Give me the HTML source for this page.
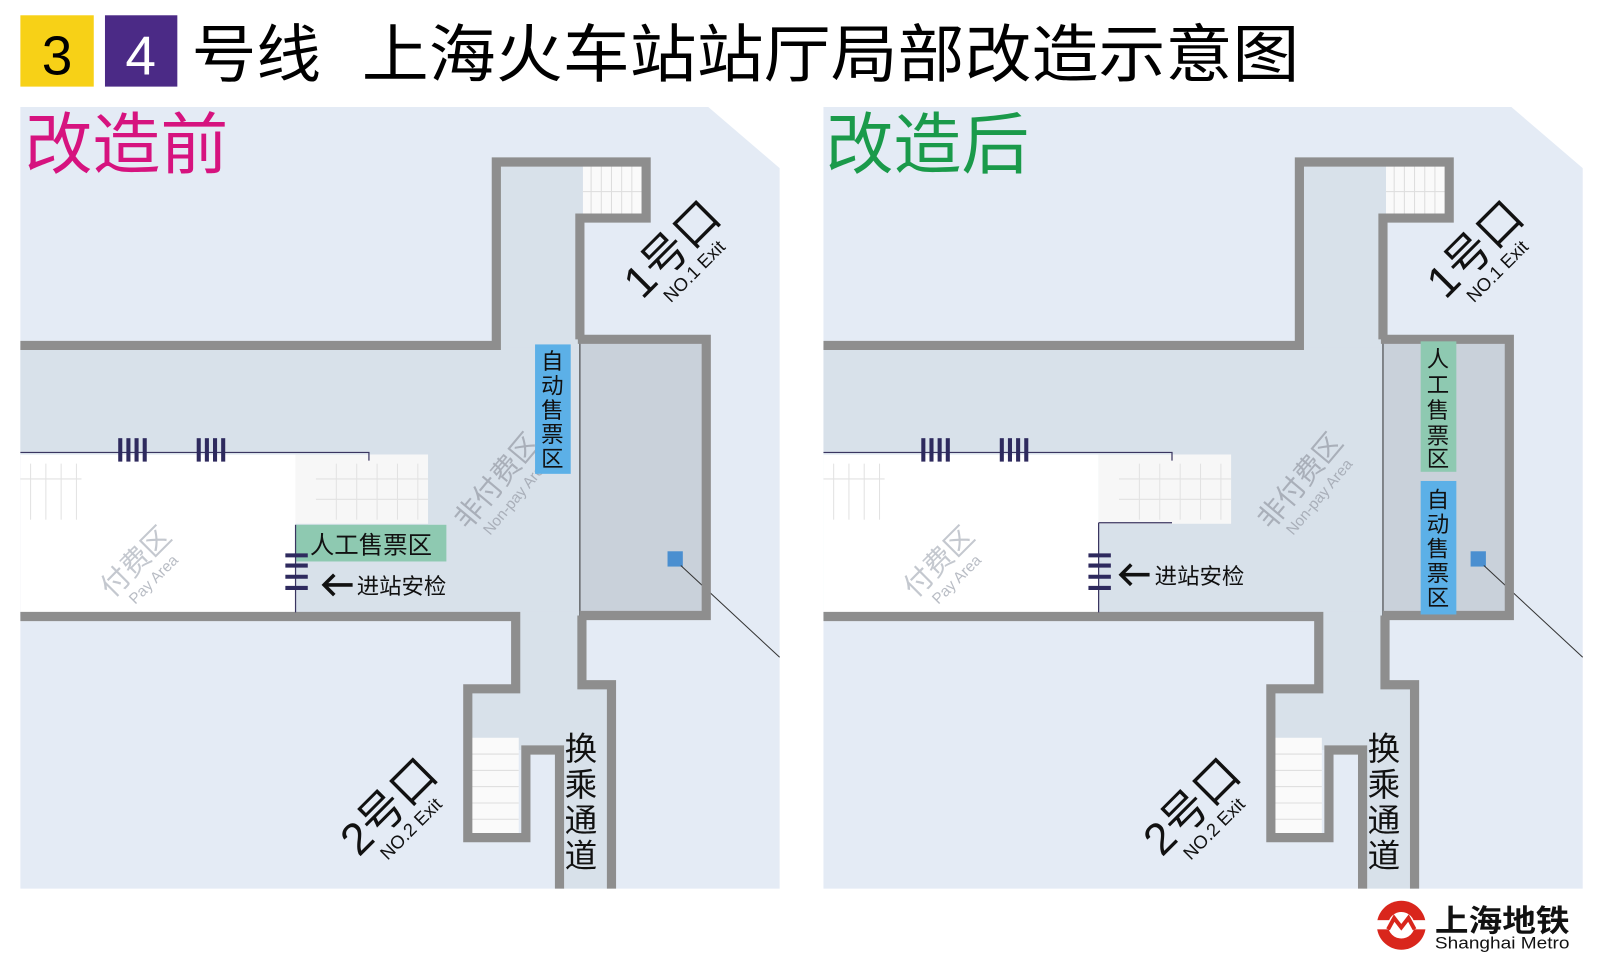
<!DOCTYPE html>
<html><head><meta charset="utf-8"><style>
html,body{margin:0;padding:0;background:#fff;}
svg{display:block;}
text{font-family:"Liberation Sans","Noto Sans CJK SC",sans-serif;}
</style></head><body>
<svg width="1598" height="965" viewBox="0 0 1568 947" preserveAspectRatio="none" xmlns="http://www.w3.org/2000/svg">
<rect width="1568" height="947" fill="#fff"/>
<!-- title -->
<rect x="20" y="15" width="72" height="70" fill="#f7d117"/>
<text x="56" y="73" font-size="54" text-anchor="middle" fill="#000">3</text>
<rect x="103" y="15" width="71" height="70" fill="#4b2a86"/>
<text x="138" y="73" font-size="54" text-anchor="middle" fill="#fff">4</text>
<text x="188" y="75" font-size="62" fill="#000" textLength="127" lengthAdjust="spacingAndGlyphs">号线</text>
<text x="355" y="75" font-size="62" fill="#000" textLength="920" lengthAdjust="spacingAndGlyphs">上海火车站站厅局部改造示意图</text>

<defs>
<g id="panel">
  <polygon points="0,105 675,105 745,165 745,872 0,872" fill="#e4ebf5"/>
  <rect x="0" y="339" width="549" height="266" fill="#d8e1ea"/>
  <rect x="467" y="159" width="82" height="182" fill="#d8e1ea"/>
  <rect x="467" y="159" width="147" height="55" fill="#d8e1ea"/>
  <rect x="486" y="600" width="65" height="80" fill="#d8e1ea"/>
  <rect x="439" y="676" width="141" height="60" fill="#d8e1ea"/>
  <rect x="529" y="730" width="51" height="142" fill="#d8e1ea"/>
  <rect x="552" y="163" width="58" height="49" fill="#fafafa"/>
  <g stroke="#ddd" stroke-width="1">
    <line x1="552" y1="188" x2="610" y2="188"/>
    <line x1="560" y1="163" x2="560" y2="212"/><line x1="570" y1="163" x2="570" y2="212"/><line x1="580" y1="163" x2="580" y2="212"/><line x1="590" y1="163" x2="590" y2="212"/><line x1="600" y1="163" x2="600" y2="212"/>
  </g>
  <rect x="443" y="724" width="46" height="94" fill="#fafafa"/>
  <g stroke="#ddd" stroke-width="1">
    <line x1="443" y1="740" x2="489" y2="740"/><line x1="443" y1="756" x2="489" y2="756"/><line x1="443" y1="772" x2="489" y2="772"/><line x1="443" y1="788" x2="489" y2="788"/><line x1="443" y1="804" x2="489" y2="804"/>
  </g>
  <rect x="0" y="446" width="270" height="155" fill="#fff"/>
  <rect x="270" y="446" width="130" height="68" fill="#f7f7f7"/>
  <g stroke="#e2e2e2" stroke-width="1">
    <line x1="0" y1="470" x2="60" y2="470"/><line x1="290" y1="470" x2="400" y2="470"/><line x1="290" y1="490" x2="400" y2="490"/>
    <line x1="10" y1="455" x2="10" y2="510"/><line x1="25" y1="455" x2="25" y2="510"/><line x1="40" y1="455" x2="40" y2="510"/><line x1="55" y1="455" x2="55" y2="510"/>
    <line x1="310" y1="455" x2="310" y2="510"/><line x1="330" y1="455" x2="330" y2="510"/><line x1="350" y1="455" x2="350" y2="510"/><line x1="370" y1="455" x2="370" y2="510"/><line x1="390" y1="455" x2="390" y2="510"/>
  </g>
  <polyline points="0,444 342,444 342,452" fill="none" stroke="#3a3560" stroke-width="1.2"/>
  <g stroke="#2e2a5e" stroke-width="4">
    <line x1="98" y1="430" x2="98" y2="453"/><line x1="106" y1="430" x2="106" y2="453"/><line x1="114" y1="430" x2="114" y2="453"/><line x1="122" y1="430" x2="122" y2="453"/>
    <line x1="175" y1="430" x2="175" y2="453"/><line x1="183" y1="430" x2="183" y2="453"/><line x1="191" y1="430" x2="191" y2="453"/><line x1="199" y1="430" x2="199" y2="453"/>
  </g>
  <rect x="549" y="333" width="122" height="271" fill="#c9d1da" stroke="#333" stroke-width="1"/>
  <rect x="635" y="541" width="15" height="15" fill="#4a8fd0"/>
  <line x1="648" y1="555" x2="745" y2="645" stroke="#333" stroke-width="1"/>
  <g fill="none" stroke="#8e8e8e" stroke-width="9">
    <polyline points="0,339 467,339 467,159 614,159 614,214 549,214 549,333"/>
    <polyline points="547,333 673,333 673,604 549,604"/>
    <polyline points="0,605 486,605 486,676 439,676 439,822 496,822 496,736 529,736 529,872"/>
    <polyline points="551,604 551,672 580,672 580,872"/>
  </g>
  <g transform="translate(120,558) rotate(-45)" text-anchor="middle">
    <text x="0" y="0" font-size="28" fill="#c4c8cf">付费区</text>
    <text x="0" y="20" font-size="15" fill="#b8bcc4">Pay Area</text>
  </g>
  <g transform="translate(475,478) rotate(-50)" text-anchor="middle">
    <text x="0" y="0" font-size="28" fill="#a9afb9">非付费区</text>
    <text x="0" y="20" font-size="15" fill="#a9afb9">Non-pay Area</text>
  </g>
  <g transform="translate(650,255) rotate(-45)" text-anchor="middle">
    <text x="0" y="0" font-size="44" fill="#111">1号口</text>
    <text x="0" y="22" font-size="18" fill="#111">NO.1 Exit</text>
  </g>
  <g transform="translate(372,802) rotate(-45)" text-anchor="middle">
    <text x="0" y="0" font-size="44" fill="#111">2号口</text>
    <text x="0" y="22" font-size="18" fill="#111">NO.2 Exit</text>
  </g>
  <g font-size="32" fill="#111" text-anchor="middle">
    <text x="550" y="746">换</text><text x="550" y="781">乘</text><text x="550" y="816">通</text><text x="550" y="851">道</text>
  </g>
</g>
</defs>

<use href="#panel" transform="translate(20,0)"/>
<text x="24" y="165" font-size="66" fill="#d6137f" textLength="200" lengthAdjust="spacingAndGlyphs">改造前</text>
<rect x="290" y="515" width="148" height="36" fill="#8ec9b1"/>
<text x="364" y="543" font-size="24" text-anchor="middle" fill="#111">人工售票区</text>
<line x1="290" y1="515" x2="290" y2="601" stroke="#3a3560" stroke-width="1.2"/>
<g stroke="#2e2a5e" stroke-width="4">
  <line x1="280" y1="545" x2="302" y2="545"/><line x1="280" y1="555" x2="302" y2="555"/><line x1="280" y1="566" x2="302" y2="566"/><line x1="280" y1="577" x2="302" y2="577"/>
</g>
<g stroke="#111" stroke-width="3.5" fill="none"><line x1="318" y1="574" x2="346" y2="574"/><polyline points="328,564 318,574 328,584"/></g>
<text x="350" y="583" font-size="22" fill="#111">进站安检</text>
<rect x="525" y="338" width="35" height="127" fill="#5cb0e7"/>
<g font-size="22" fill="#111" text-anchor="middle">
  <text x="542" y="362">自</text><text x="542" y="386">动</text><text x="542" y="410">售</text><text x="542" y="434">票</text><text x="542" y="458">区</text>
</g>

<use href="#panel" transform="translate(808,0)"/>
<text x="810" y="165" font-size="66" fill="#1a9a4a" textLength="200" lengthAdjust="spacingAndGlyphs">改造后</text>
<line x1="1078" y1="513" x2="1078" y2="601" stroke="#3a3560" stroke-width="1.2"/>
<line x1="1078" y1="513" x2="1150" y2="513" stroke="#3a3560" stroke-width="1.2"/>
<g stroke="#2e2a5e" stroke-width="4">
  <line x1="1068" y1="545" x2="1090" y2="545"/><line x1="1068" y1="555" x2="1090" y2="555"/><line x1="1068" y1="566" x2="1090" y2="566"/><line x1="1068" y1="577" x2="1090" y2="577"/>
</g>
<g stroke="#111" stroke-width="3.5" fill="none"><line x1="1100" y1="564" x2="1128" y2="564"/><polyline points="1110,554 1100,564 1110,574"/></g>
<text x="1133" y="573" font-size="22" fill="#111">进站安检</text>
<rect x="1394" y="335" width="35" height="128" fill="#8ec9b1"/>
<g font-size="22" fill="#111" text-anchor="middle">
  <text x="1411" y="360">人</text><text x="1411" y="385">工</text><text x="1411" y="410">售</text><text x="1411" y="435">票</text><text x="1411" y="458">区</text>
</g>
<rect x="1394" y="472" width="35" height="131" fill="#5cb0e7"/>
<g font-size="22" fill="#111" text-anchor="middle">
  <text x="1411" y="498">自</text><text x="1411" y="522">动</text><text x="1411" y="546">售</text><text x="1411" y="570">票</text><text x="1411" y="594">区</text>
</g>

<circle cx="1375" cy="908" r="24" fill="#d9261c"/>
<circle cx="1375" cy="908" r="13" fill="#fff"/>
<rect x="1348" y="903" width="54" height="9" fill="#fff"/>
<polyline points="1362,912 1368,901 1375,910 1382,901 1388,912" fill="none" stroke="#d9261c" stroke-width="4"/>
<text x="1408" y="914" font-size="30" font-weight="bold" fill="#111" textLength="132" lengthAdjust="spacingAndGlyphs">上海地铁</text>
<text x="1408" y="931" font-size="16" fill="#111" textLength="132" lengthAdjust="spacingAndGlyphs">Shanghai Metro</text>
</svg>
</body></html>
